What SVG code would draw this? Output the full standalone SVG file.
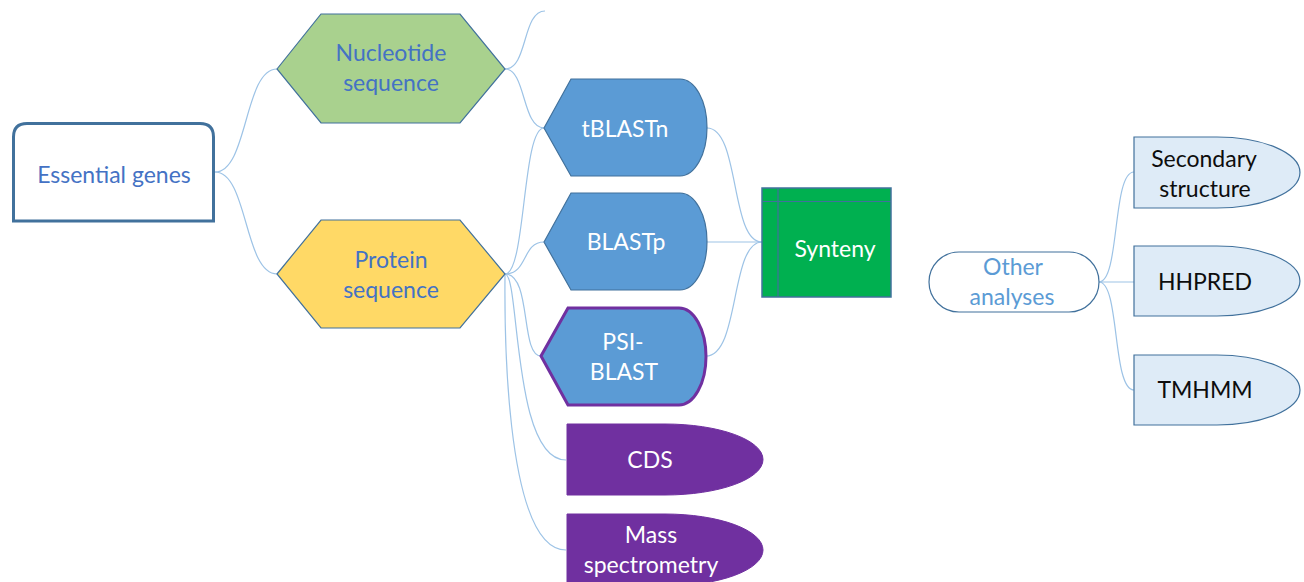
<svg xmlns="http://www.w3.org/2000/svg" width="1304" height="582" viewBox="0 0 1304 582">
<style>
text{font-family:Lato,"Open Sans","Liberation Sans",sans-serif;font-size:23px;text-anchor:middle}
.conn{fill:none;stroke:#9DC3E6;stroke-width:1.2}
.blue{fill:#5B9BD5;stroke:#41719C;stroke-width:1.2}
.purple{fill:#7030A0;stroke:#7030A0;stroke-width:1}
.light{fill:#DEEBF7;stroke:#41719C;stroke-width:1.2}
.wt{fill:#FFFFFF}
.dk{fill:#0D0D0D}
.bt{fill:#4472C4}
</style>
<rect width="1304" height="582" fill="#FFFFFF"/>
<g id="connectors">
<path class="conn" d="M215,172 C248,172 244,69 277,69"/>
<path class="conn" d="M215,172 C248,172 244,274 277,274"/>
<path class="conn" d="M505,69 C528,69 522,11 545,11"/>
<path class="conn" d="M505,69 C526,69 522,128 544,128"/>
<path class="conn" d="M505,274 C526,274 522,128 544,128"/>
<path class="conn" d="M505,274 C528,274 522,242 544,242"/>
<path class="conn" d="M505,274 C532,274 520,356 541,356"/>
<path class="conn" d="M505,274 C520,274 512,460 566,460"/>
<path class="conn" d="M505,274 C505,290 500,550 566,550"/>
<path class="conn" d="M707,128 C740,128 730,242 762,242"/>
<path class="conn" d="M707,242 L762,242"/>
<path class="conn" d="M706,356 C740,356 730,242 762,242"/>
<path class="conn" d="M1099,282 C1120,282 1112,172 1134,172"/>
<path class="conn" d="M1099,282 L1134,282"/>
<path class="conn" d="M1099,282 C1120,282 1112,390 1134,390"/>
</g>
<g id="essential-genes">
<path d="M13.5,221 V137 Q13.5,123.5 27,123.5 H200 Q213.5,123.5 213.5,137 V221 Z" fill="#FFFFFF" stroke="#41719C" stroke-width="3"/>
<text x="114" y="183" class="bt">Essential genes</text>
</g>
<g id="nucleotide-sequence">
<path d="M277,69 L321,14 L460,14 L505,69 L460,123 L321,123 Z" fill="#A9D18E" stroke="#41719C" stroke-width="1.2"/>
<text x="391" y="61" class="bt">Nucleotide</text>
<text x="391" y="91" class="bt">sequence</text>
</g>
<g id="protein-sequence">
<path d="M277,274 L321,220 L460,220 L505,274 L460,328 L321,328 Z" fill="#FFD966" stroke="#41719C" stroke-width="1.2"/>
<text x="391" y="268" class="bt">Protein</text>
<text x="391" y="298" class="bt">sequence</text>
</g>
<g id="tblastn">
<path class="blue" d="M544,128 L571,79 L680,79 A27,48.5 0 0 1 680,176 L571,176 Z"/>
<text x="625" y="137" class="wt">tBLASTn</text>
</g>
<g id="blastp">
<path class="blue" d="M544,242 L571,193 L680,193 A27,48.5 0 0 1 680,290 L571,290 Z"/>
<text x="626" y="250" class="wt">BLASTp</text>
</g>
<g id="psi-blast">
<path d="M541,356 L568,308 L679,308 A27,48.5 0 0 1 679,405 L568,405 Z" fill="#5B9BD5" stroke="#7030A0" stroke-width="3"/>
<text x="623" y="350" class="wt">PSI-</text>
<text x="624" y="380" class="wt">BLAST</text>
</g>
<g id="synteny">
<rect x="762" y="188" width="129" height="109" fill="#00B050" stroke="#41719C" stroke-width="1.5"/>
<line x1="778" y1="188" x2="778" y2="297" stroke="#41719C" stroke-width="1.2"/>
<line x1="762" y1="201.5" x2="891" y2="201.5" stroke="#41719C" stroke-width="1.2"/>
<text x="835" y="257" class="wt">Synteny</text>
</g>
<g id="cds">
<path class="purple" d="M567,424 H665 A98,35.5 0 0 1 665,495 H567 Z"/>
<text x="650" y="468" class="wt">CDS</text>
</g>
<g id="mass-spectrometry">
<path class="purple" d="M567,514 H665 A98,36 0 0 1 665,586 H567 Z"/>
<text x="651" y="543" class="wt">Mass</text>
<text x="651" y="573" class="wt">spectrometry</text>
</g>
<g id="other-analyses">
<rect x="929" y="252" width="170" height="60" rx="30" ry="30" fill="#FFFFFF" stroke="#41719C" stroke-width="1.2"/>
<text x="1013" y="275" fill="#5B9BD5">Other</text>
<text x="1012" y="305" fill="#5B9BD5">analyses</text>
</g>
<g id="secondary-structure">
<path class="light" d="M1134,137 H1217 A83,35.5 0 0 1 1217,208 H1134 Z"/>
<text x="1204" y="167" class="dk">Secondary</text>
<text x="1205" y="197" class="dk">structure</text>
</g>
<g id="hhpred">
<path class="light" d="M1134,246 H1217 A83,35 0 0 1 1217,316 H1134 Z"/>
<text x="1205" y="290" class="dk">HHPRED</text>
</g>
<g id="tmhmm">
<path class="light" d="M1134,355 H1217 A83,35 0 0 1 1217,425 H1134 Z"/>
<text x="1205" y="398" class="dk">TMHMM</text>
</g>
</svg>
